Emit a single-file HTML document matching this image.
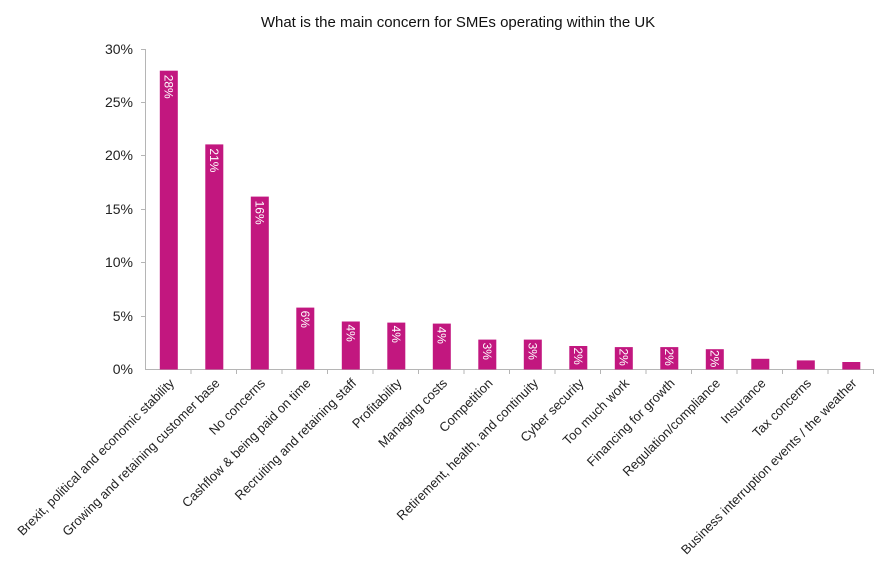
<!DOCTYPE html>
<html><head><meta charset="utf-8"><style>
html,body{margin:0;padding:0;background:#fff;}
svg{display:block;font-family:"Liberation Sans",sans-serif;}
</style></head><body>
<svg width="888" height="580" viewBox="0 0 888 580" xmlns="http://www.w3.org/2000/svg">
<text x="458" y="27" font-size="15" text-anchor="middle" fill="#111">What is the main concern for SMEs operating within the UK</text>
<g stroke="#b5b5b5" stroke-width="1">
<line x1="145.5" y1="49" x2="145.5" y2="370"/>
<line x1="145" y1="369.5" x2="873" y2="369.5"/>
<line x1="141" y1="49.5" x2="145" y2="49.5"/>
<line x1="141" y1="102.5" x2="145" y2="102.5"/>
<line x1="141" y1="155.5" x2="145" y2="155.5"/>
<line x1="141" y1="209.5" x2="145" y2="209.5"/>
<line x1="141" y1="262.5" x2="145" y2="262.5"/>
<line x1="141" y1="316.5" x2="145" y2="316.5"/>
<line x1="191" y1="369" x2="191" y2="374"/>
<line x1="236.5" y1="369" x2="236.5" y2="374"/>
<line x1="282" y1="369" x2="282" y2="374"/>
<line x1="327.5" y1="369" x2="327.5" y2="374"/>
<line x1="373" y1="369" x2="373" y2="374"/>
<line x1="418.5" y1="369" x2="418.5" y2="374"/>
<line x1="464" y1="369" x2="464" y2="374"/>
<line x1="509.5" y1="369" x2="509.5" y2="374"/>
<line x1="555" y1="369" x2="555" y2="374"/>
<line x1="600.5" y1="369" x2="600.5" y2="374"/>
<line x1="646" y1="369" x2="646" y2="374"/>
<line x1="691.5" y1="369" x2="691.5" y2="374"/>
<line x1="737" y1="369" x2="737" y2="374"/>
<line x1="782.5" y1="369" x2="782.5" y2="374"/>
<line x1="828" y1="369" x2="828" y2="374"/>
<line x1="873.5" y1="369" x2="873.5" y2="374"/>
</g>
<g font-size="14" fill="#222" text-anchor="end">
<text x="133" y="54">30%</text>
<text x="133" y="107">25%</text>
<text x="133" y="160">20%</text>
<text x="133" y="214">15%</text>
<text x="133" y="267">10%</text>
<text x="133" y="321">5%</text>
<text x="133" y="374">0%</text>
</g>
<g fill="#c2177f">
<rect x="159.8" y="70.7" width="18" height="298.8"/>
<rect x="205.3" y="144.4" width="18" height="225.1"/>
<rect x="250.8" y="196.6" width="18" height="172.9"/>
<rect x="296.3" y="307.6" width="18" height="61.9"/>
<rect x="341.8" y="321.5" width="18" height="48"/>
<rect x="387.3" y="322.6" width="18" height="46.9"/>
<rect x="432.8" y="323.6" width="18" height="45.9"/>
<rect x="478.3" y="339.6" width="18" height="29.9"/>
<rect x="523.8" y="339.6" width="18" height="29.9"/>
<rect x="569.3" y="346" width="18" height="23.5"/>
<rect x="614.8" y="347.1" width="18" height="22.4"/>
<rect x="660.3" y="347.1" width="18" height="22.4"/>
<rect x="705.8" y="349.2" width="18" height="20.3"/>
<rect x="751.3" y="358.8" width="18" height="10.7"/>
<rect x="796.8" y="360.4" width="18" height="9.1"/>
<rect x="842.3" y="362" width="18" height="7.5"/>
</g>
<g font-size="12" fill="#fff">
<text transform="translate(164.3,74.7) rotate(90)">28%</text>
<text transform="translate(209.8,148.4) rotate(90)">21%</text>
<text transform="translate(255.3,200.6) rotate(90)">16%</text>
<text transform="translate(300.8,310.6) rotate(90)">6%</text>
<text transform="translate(346.3,324.5) rotate(90)">4%</text>
<text transform="translate(391.8,325.6) rotate(90)">4%</text>
<text transform="translate(437.3,326.6) rotate(90)">4%</text>
<text transform="translate(482.8,342.6) rotate(90)">3%</text>
<text transform="translate(528.3,342.6) rotate(90)">3%</text>
<text transform="translate(573.8,347.5) rotate(90)">2%</text>
<text transform="translate(619.3,348.5) rotate(90)">2%</text>
<text transform="translate(664.8,348.5) rotate(90)">2%</text>
<text transform="translate(710.3,350) rotate(90)">2%</text>
</g>
<g font-size="13" fill="#222" text-anchor="end">
<text transform="translate(175,384) rotate(-45)">Brexit, political and economic stability</text>
<text transform="translate(220.5,384) rotate(-45)">Growing and retaining customer base</text>
<text transform="translate(266,384) rotate(-45)">No concerns</text>
<text transform="translate(311.5,384) rotate(-45)">Cashflow &amp; being paid on time</text>
<text transform="translate(357,384) rotate(-45)">Recruiting and retaining staff</text>
<text transform="translate(402.5,384) rotate(-45)">Profitability</text>
<text transform="translate(448,384) rotate(-45)">Managing costs</text>
<text transform="translate(493.5,384) rotate(-45)">Competition</text>
<text transform="translate(539,384) rotate(-45)">Retirement, health, and continuity</text>
<text transform="translate(584.5,384) rotate(-45)">Cyber security</text>
<text transform="translate(630,384) rotate(-45)">Too much work</text>
<text transform="translate(675.5,384) rotate(-45)">Financing for growth</text>
<text transform="translate(721,384) rotate(-45)">Regulation/compliance</text>
<text transform="translate(766.5,384) rotate(-45)">Insurance</text>
<text transform="translate(812,384) rotate(-45)">Tax concerns</text>
<text transform="translate(857.5,384) rotate(-45)">Business interruption events / the weather</text>
</g>
</svg>
</body></html>
